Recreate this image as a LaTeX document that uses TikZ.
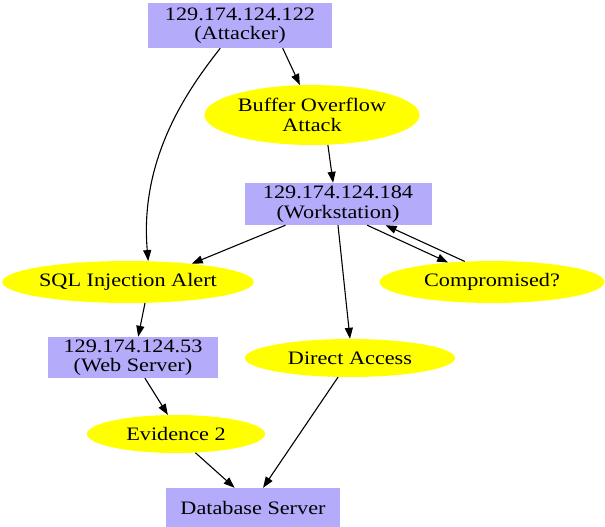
\documentclass[tikz,border=0pt]{standalone}
\usepackage{fontspec}
\setmainfont[FakeStretch=1.17]{Liberation Serif}
\usetikzlibrary{shapes.geometric,arrows.meta}
\definecolor{hostblue}{RGB}{180,172,250}
\definecolor{alertyellow}{RGB}{255,255,0}
\tikzset{
	host/.style={rectangle,fill=hostblue,inner sep=0pt,align=center,
		font=\fontsize{19}{19.5}\selectfont},
	alert/.style={ellipse,fill=alertyellow,inner sep=0pt,align=center,
		font=\fontsize{19}{19.5}\selectfont},
	link/.style={draw,line width=1.1pt,-{Triangle[length=11pt,width=8pt]}}
}
\begin{document}
\begin{tikzpicture}[x=1pt,y=1pt]
	\useasboundingbox (0,0) rectangle (605,-527);
	% hosts
	\node[host,minimum width=184pt,minimum height=45pt] (attacker) at (240,-25.5)
		{129.174.124.122\\(Attacker)};
	\node[host,minimum width=187pt,minimum height=42pt] (ws) at (338,-204)
		{129.174.124.184\\(Workstation)};
	\node[host,minimum width=170pt,minimum height=41pt] (web) at (133,-357.5)
		{129.174.124.53\\(Web Server)};
	\node[host,minimum width=174pt,minimum height=39pt] (db) at (253,-507.5)
		{Database Server};
	% alerts
	\node[alert,minimum width=215pt,minimum height=60pt] (bof) at (312,-115)
		{Buffer Overflow\\Attack};
	\node[alert,minimum width=246pt,minimum height=42pt] (sql) at (128,-282)
		{SQL Injection Alert};
	\node[alert,minimum width=225pt,minimum height=42pt] (comp) at (492,-282)
		{Compromised?};
	\node[alert,minimum width=210pt,minimum height=38pt] (direct) at (350,-358)
		{Direct Access};
	\node[alert,minimum width=178pt,minimum height=38pt] (ev) at (176,-434)
		{Evidence 2};
	% edges
	\draw (attacker.-28) edge[link] (bof.112);
	\draw (attacker.-131) edge[link,out=-128,in=95,out looseness=0.55,in looseness=1.2] (sql.46);
	\draw (bof.-62) edge[link] (ws.103);
	\draw (ws.-158) edge[link] (sql.16);
	\draw (ws.-90) edge[link] (direct.90);
	\draw (ws.-36) edge[link] (comp.156);
	\draw (comp.143) edge[link] (ws.-24);
	\draw (sql.-51) edge[link] (web.76);
	\draw (web.-60) edge[link] (ev.113);
	\draw (ev.-44) edge[link] (db.133);
	\draw (direct.-122) edge[link] (db.63);
\end{tikzpicture}
\end{document}
